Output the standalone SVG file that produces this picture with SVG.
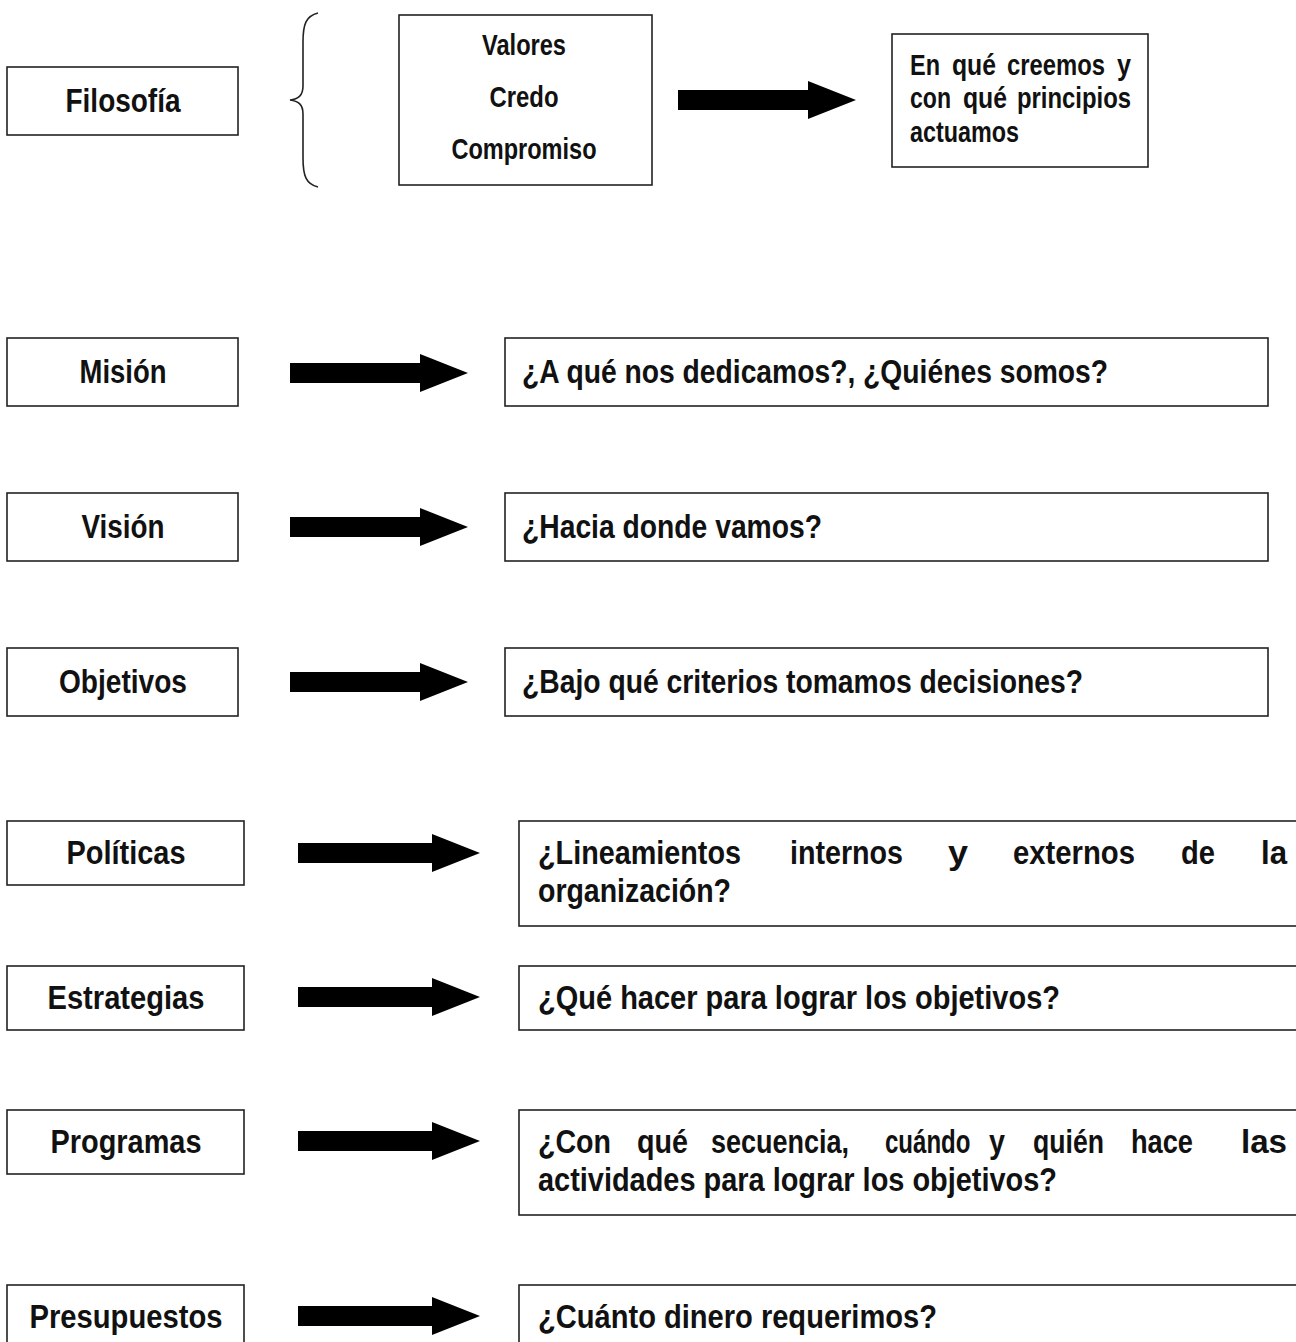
<svg xmlns="http://www.w3.org/2000/svg" width="1296" height="1342" viewBox="0 0 1296 1342">
<style>
.box{fill:#fff;stroke:#222;stroke-width:1.6}
.t{font-family:"Liberation Sans",Arial,sans-serif;font-weight:bold;font-size:34px;fill:#111}
.s{font-size:30px}
.c{text-anchor:middle}
.arrow{fill:#000}
</style>
<defs>
<path id="arrA" d="M0,-10 H130 V-19 L178,0 L130,19 V10 H0 Z"/>
<path id="arrB" d="M0,-10 H134 V-19 L182,0 L134,19 V10 H0 Z"/>
</defs>
<rect width="1296" height="1342" fill="#fff"/>

<g id="filosofia">
<rect class="box" x="7" y="67" width="231" height="68"/>
<text class="t c" x="123" y="112" textLength="115" lengthAdjust="spacingAndGlyphs">Filosofía</text>
</g>
<g id="brace">
<path d="M318,13 C306,16 303,24 303,42 V86 C303,96 298,99 290,100 C298,101 303,104 303,114 V158 C303,176 306,184 318,187" fill="none" stroke="#222" stroke-width="1.6"/>
</g>
<g id="valores">
<rect class="box" x="399" y="15" width="253" height="170"/>
<text class="t s c" x="524" y="55" textLength="84" lengthAdjust="spacingAndGlyphs">Valores</text>
<text class="t s c" x="524" y="107" textLength="69" lengthAdjust="spacingAndGlyphs">Credo</text>
<text class="t s c" x="524" y="159" textLength="145" lengthAdjust="spacingAndGlyphs">Compromiso</text>
</g>
<g id="creemos">
<rect class="box" x="892" y="34" width="256" height="133"/>
<text class="t s" x="910" y="75" textLength="30" lengthAdjust="spacingAndGlyphs">En</text>
<text class="t s" x="952" y="75" textLength="44" lengthAdjust="spacingAndGlyphs">qué</text>
<text class="t s" transform="translate(1007,75) scale(0.8,1)" textLength="122.5" lengthAdjust="spacingAndGlyphs">creemos</text>
<text class="t s" x="1117" y="75" textLength="14" lengthAdjust="spacingAndGlyphs">y</text>
<text class="t s" x="910" y="108" textLength="41" lengthAdjust="spacingAndGlyphs">con</text>
<text class="t s" x="963" y="108" textLength="44" lengthAdjust="spacingAndGlyphs">qué</text>
<text class="t s" x="1017" y="108" textLength="114" lengthAdjust="spacingAndGlyphs">principios</text>
<text class="t s" x="910" y="142" textLength="109" lengthAdjust="spacingAndGlyphs">actuamos</text>
</g>

<g id="mision">
<rect class="box" x="7" y="338" width="231" height="68"/>
<text class="t c" x="123" y="383" textLength="87" lengthAdjust="spacingAndGlyphs">Misión</text>
</g>
<g id="mision-a">
<rect class="box" x="505" y="338" width="763" height="68"/>
<text class="t" x="522" y="383" textLength="586" lengthAdjust="spacingAndGlyphs">¿A qué nos dedicamos?, ¿Quiénes somos?</text>
</g>

<g id="vision">
<rect class="box" x="7" y="493" width="231" height="68"/>
<text class="t c" x="123" y="538" textLength="83" lengthAdjust="spacingAndGlyphs">Visión</text>
</g>
<g id="vision-a">
<rect class="box" x="505" y="493" width="763" height="68"/>
<text class="t" x="522" y="538" textLength="300" lengthAdjust="spacingAndGlyphs">¿Hacia donde vamos?</text>
</g>

<g id="objetivos">
<rect class="box" x="7" y="648" width="231" height="68"/>
<text class="t c" x="123" y="693" textLength="128" lengthAdjust="spacingAndGlyphs">Objetivos</text>
</g>
<g id="objetivos-a">
<rect class="box" x="505" y="648" width="763" height="68"/>
<text class="t" x="522" y="693" textLength="561" lengthAdjust="spacingAndGlyphs">¿Bajo qué criterios tomamos decisiones?</text>
</g>

<g id="politicas">
<rect class="box" x="7" y="821" width="237" height="64"/>
<text class="t c" x="126" y="864" textLength="119" lengthAdjust="spacingAndGlyphs">Políticas</text>
</g>
<g id="politicas-a">
<rect class="box" x="519" y="821" width="790" height="105"/>
<text class="t" x="538" y="864" textLength="203" lengthAdjust="spacingAndGlyphs">¿Lineamientos</text>
<text class="t" x="790" y="864" textLength="113" lengthAdjust="spacingAndGlyphs">internos</text>
<text class="t" x="948" y="864" textLength="20" lengthAdjust="spacingAndGlyphs">y</text>
<text class="t" x="1013" y="864" textLength="122" lengthAdjust="spacingAndGlyphs">externos</text>
<text class="t" x="1181" y="864" textLength="34" lengthAdjust="spacingAndGlyphs">de</text>
<text class="t" x="1261" y="864" textLength="26" lengthAdjust="spacingAndGlyphs">la</text>
<text class="t" x="538" y="902" textLength="193" lengthAdjust="spacingAndGlyphs">organización?</text>
</g>

<g id="estrategias">
<rect class="box" x="7" y="966" width="237" height="64"/>
<text class="t c" x="126" y="1009" textLength="157" lengthAdjust="spacingAndGlyphs">Estrategias</text>
</g>
<g id="estrategias-a">
<rect class="box" x="519" y="966" width="790" height="64"/>
<text class="t" x="538" y="1009" textLength="522" lengthAdjust="spacingAndGlyphs">¿Qué hacer para lograr los objetivos?</text>
</g>

<g id="programas">
<rect class="box" x="7" y="1110" width="237" height="64"/>
<text class="t c" x="126" y="1153" textLength="151" lengthAdjust="spacingAndGlyphs">Programas</text>
</g>
<g id="programas-a">
<rect class="box" x="519" y="1110" width="790" height="105"/>
<text class="t" x="538" y="1153" textLength="73" lengthAdjust="spacingAndGlyphs">¿Con</text>
<text class="t" x="637" y="1153" textLength="51" lengthAdjust="spacingAndGlyphs">qué</text>
<text class="t" x="711" y="1153" textLength="138" lengthAdjust="spacingAndGlyphs">secuencia,</text>
<text class="t" transform="translate(885,1153) scale(0.7,1)" textLength="122" lengthAdjust="spacingAndGlyphs">cuándo</text>
<text class="t" x="989" y="1153" textLength="16" lengthAdjust="spacingAndGlyphs">y</text>
<text class="t" x="1033" y="1153" textLength="71" lengthAdjust="spacingAndGlyphs">quién</text>
<text class="t" x="1131" y="1153" textLength="62" lengthAdjust="spacingAndGlyphs">hace</text>
<text class="t" x="1241" y="1153" textLength="46" lengthAdjust="spacingAndGlyphs">las</text>
<text class="t" x="538" y="1191" textLength="519" lengthAdjust="spacingAndGlyphs">actividades para lograr los objetivos?</text>
</g>

<g id="presupuestos">
<rect class="box" x="7" y="1285" width="237" height="70"/>
<text class="t c" x="126" y="1328" textLength="193" lengthAdjust="spacingAndGlyphs">Presupuestos</text>
</g>
<g id="presupuestos-a">
<rect class="box" x="519" y="1285" width="790" height="70"/>
<text class="t" x="538" y="1328" textLength="399" lengthAdjust="spacingAndGlyphs">¿Cuánto dinero requerimos?</text>
</g>

<g id="connectors" class="arrow">
<use href="#arrA" x="678" y="100"/>
<use href="#arrA" x="290" y="373"/>
<use href="#arrA" x="290" y="527"/>
<use href="#arrA" x="290" y="682"/>
<use href="#arrB" x="298" y="853"/>
<use href="#arrB" x="298" y="997"/>
<use href="#arrB" x="298" y="1141"/>
<use href="#arrB" x="298" y="1316"/>
</g>
</svg>
